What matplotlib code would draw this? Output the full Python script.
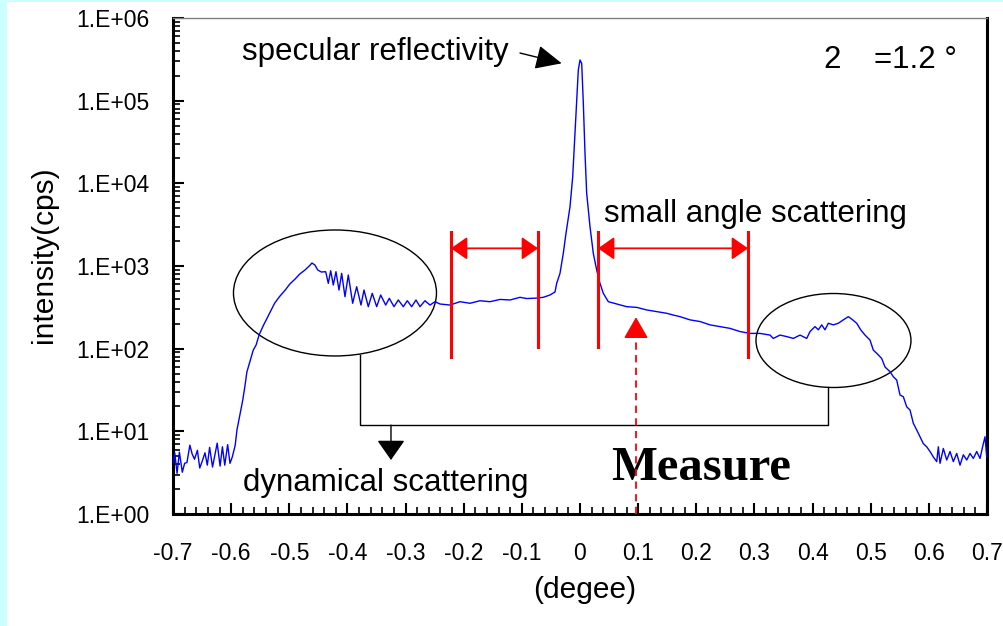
import math
import matplotlib
matplotlib.use("Agg")
import matplotlib.pyplot as plt
from matplotlib.patches import Ellipse, Rectangle
from matplotlib.ticker import FixedLocator, MultipleLocator, LogLocator, FuncFormatter, NullFormatter

plt.rcParams['font.family'] = ['Liberation Sans', 'DejaVu Sans']

# rocking scan: detector angle (deg) vs intensity (cps)
floor_left_deg = [-0.700, -0.697, -0.693, -0.689, -0.684, -0.680, -0.676, -0.671, -0.667,
                  -0.663, -0.658, -0.654, -0.650, -0.645, -0.641, -0.637, -0.632, -0.628,
                  -0.624, -0.619, -0.615, -0.611, -0.606, -0.602, -0.598]
floor_left_cps = [4.1, 5.5, 3.1, 5.6, 3.2, 4.1, 4.2, 6.8, 5.3,
                  4.6, 5.9, 3.6, 4.3, 5.5, 3.9, 6.4, 3.7, 5.2,
                  7.2, 3.8, 6.5, 3.9, 6.9, 4.1, 4.9]

rise_deg = [-0.593, -0.590, -0.585, -0.580, -0.576, -0.573, -0.568, -0.562, -0.557,
            -0.552, -0.545, -0.538, -0.531, -0.525, -0.516, -0.507, -0.499, -0.490,
            -0.482, -0.473, -0.464, -0.461, -0.456, -0.451, -0.445]
rise_cps = [6.8, 10.4, 15.8, 23.9, 36.4, 52, 69, 96, 111,
            146, 188, 235, 294, 357, 433, 512, 606, 696,
            800, 894, 1028, 1087, 1028, 894, 846]

fringe_deg = [-0.4374, -0.4329, -0.4288, -0.4243, -0.4197, -0.4145, -0.4099, -0.4042,
              -0.3985, -0.3910, -0.3841, -0.3767, -0.3715, -0.3641, -0.3573, -0.3497,
              -0.3428, -0.3342, -0.3280, -0.3199, -0.3125, -0.3039, -0.2970, -0.2895,
              -0.2821, -0.2752, -0.2666, -0.2580, -0.2494, -0.2408]
fringe_cps = [853, 617, 877, 589, 853, 512, 815, 425,
              778, 354, 562, 337, 512, 322, 467, 322,
              446, 337, 406, 322, 388, 322, 380, 322,
              388, 322, 380, 337, 370, 347]

center_deg = [-0.2236, -0.2064, -0.1892, -0.1720, -0.1548, -0.1376, -0.1204, -0.1032,
              -0.0917, -0.0745, -0.0631, -0.0516, -0.0430, -0.0401, -0.0344, -0.0287,
              -0.0241, -0.0172, -0.0126, -0.0098, -0.0057, -0.0029, 0.0, 0.0029,
              0.0057, 0.0086, 0.0115, 0.0172, 0.0229, 0.0287, 0.0344, 0.0401,
              0.0487, 0.0631, 0.0803, 0.0975, 0.1147, 0.1319, 0.1491, 0.1605,
              0.1720, 0.1892, 0.2064, 0.2236, 0.2408, 0.2580]
center_cps = [337, 370, 354, 380, 370, 394, 388, 418,
              404, 409, 418, 446, 485, 617, 815, 1430,
              2483, 5200, 11900, 27800, 94000, 235000, 310000, 283000,
              94000, 23100, 7570, 2990, 1420, 894, 617, 467,
              370, 347, 322, 316, 294, 281, 268, 255,
              244, 223, 213, 194, 185, 176]

right_deg = [0.2752, 0.2924, 0.3096, 0.3268, 0.3325, 0.3440, 0.3555, 0.3669, 0.3784,
             0.3899, 0.3956, 0.4042, 0.4099, 0.4157, 0.4214, 0.4271, 0.4357, 0.4443,
             0.4529, 0.4615, 0.4673, 0.4759, 0.4828, 0.4902, 0.4988, 0.5045, 0.5103,
             0.5189, 0.5246, 0.5332, 0.5389, 0.5447, 0.5504, 0.5561, 0.5619, 0.5676,
             0.5733, 0.5791, 0.5848, 0.5905, 0.5963, 0.6020, 0.6077, 0.6135, 0.6163,
             0.6192, 0.6249, 0.6307, 0.6364, 0.6421, 0.6479, 0.6536, 0.6593, 0.6651,
             0.6708, 0.6765, 0.6823, 0.6880, 0.6937, 0.6966, 0.6995]
right_cps = [161, 153, 153, 146, 133, 146, 140, 133, 146,
             133, 161, 185, 169, 194, 169, 203, 194, 203,
             223, 244, 228, 203, 169, 146, 127, 96, 88,
             76, 60, 52.7, 45.8, 41.7, 27.5, 26.2, 19.8, 18.1,
             12.5, 10.4, 8.6, 7.1, 6.5, 5.7, 4.9, 4.3, 6.5,
             4.1, 6.2, 4.5, 5.7, 4.3, 5.4, 3.9, 5.2, 4.5,
             5.4, 4.7, 5.7, 4.7, 7.1, 8.6, 4.9]

deg = floor_left_deg + rise_deg + fringe_deg + center_deg + right_deg
cps = floor_left_cps + rise_cps + fringe_cps + center_cps + right_cps

# marker positions (deg) for the small-angle windows
window_left = (-0.2219, -0.0722)
window_right = (0.0310, 0.2890)
measure_deg = 0.0963

fig = plt.figure(figsize=(10.04, 6.26), dpi=100)
fig.patch.set_facecolor('#ccffff')
fig.patches.append(Rectangle((7 / 1004, 0), 1, 1 - 2 / 626, transform=fig.transFigure,
                             facecolor='white', edgecolor='none', zorder=-10))

ax = fig.add_axes([173 / 1004, 112 / 626, 814 / 1004, 496 / 626])
ax.set_facecolor('white')
ax.plot(deg, cps, color='#0000ff', lw=1.0, zorder=3)
ax.set_yscale('log')
ax.set_xlim(-0.7, 0.7)
ax.set_ylim(1, 1e6)

for side in ('left', 'bottom', 'right'):
    ax.spines[side].set_linewidth(2.2)
    ax.spines[side].set_color('black')
ax.spines['top'].set_linewidth(1.0)
ax.spines['top'].set_color('#808080')

ax.xaxis.set_major_locator(FixedLocator([round(-0.7 + 0.1 * i, 1) for i in range(15)]))
ax.xaxis.set_minor_locator(MultipleLocator(0.02))
ax.xaxis.set_major_formatter(FuncFormatter(lambda v, p: '%.1f' % v if abs(v) > 1e-9 else '0'))
ax.yaxis.set_major_locator(LogLocator(base=10, numticks=10))
ax.yaxis.set_minor_locator(LogLocator(base=10, subs=range(2, 10), numticks=20))
ax.yaxis.set_minor_formatter(NullFormatter())
ax.yaxis.set_major_formatter(FuncFormatter(lambda v, p: '1.E+%02d' % round(math.log10(v))))
ax.tick_params(which='major', direction='in', length=8, width=1.5, labelsize=16.5,
               top=False, right=False)
ax.tick_params(which='minor', direction='in', length=5, width=1.2, top=False, right=False)
ax.tick_params(axis='y', which='major', pad=17)
ax.tick_params(axis='x', which='major', pad=20)

ax.set_xlabel('(degee)', fontsize=21.5)
ax.xaxis.set_label_coords(0.506, -0.124)
ax.set_ylabel('intensity(cps)', fontsize=21.5)
ax.yaxis.set_label_coords(-0.141, 0.522)

# red windows for small angle scattering
for x0 in window_left + window_right:
    lo = 79 if x0 in (window_left[0], window_right[1]) else 105
    ax.plot([x0, x0], [lo, 2600], color='red', lw=2.2, zorder=4)
for a, b in (window_left, window_right):
    ax.annotate('', xy=(b, 1636), xytext=(a, 1636),
                arrowprops=dict(arrowstyle='<|-|>,head_length=0.4,head_width=0.28',
                                color='red', lw=1.3, mutation_scale=25, shrinkA=0, shrinkB=0),
                zorder=4)

# measuring position: dashed stem plus solid head
ax.plot([measure_deg, measure_deg], [1, 150], color='red', lw=1.3, ls=(0, (4, 3)), zorder=4)
ax.annotate('', xy=(measure_deg, 240), xytext=(measure_deg, 150),
            arrowprops=dict(arrowstyle='-|>,head_length=0.52,head_width=0.3',
                            color='red', lw=1.3, mutation_scale=25, shrinkA=0, shrinkB=0),
            zorder=4)

# dynamical scattering regions
ax.add_patch(Ellipse((0.199, 0.4456), 0.2494, 0.254, transform=ax.transAxes,
                     fill=False, edgecolor='black', lw=1.0, zorder=2))
ax.add_patch(Ellipse((0.8114, 0.3498), 0.1904, 0.1895, transform=ax.transAxes,
                     fill=False, edgecolor='black', lw=1.0, zorder=2))
ax.plot([-0.3784, -0.3784, 0.4271, 0.4271], [83.8, 11.9, 11.9, 34.4], color='black', lw=1.0, zorder=2)
ax.annotate('', xy=(-0.3251, 4.5), xytext=(-0.3251, 11.9),
            arrowprops=dict(arrowstyle='-|>,head_length=0.5,head_width=0.35',
                            color='black', lw=1.0, mutation_scale=25, shrinkA=0, shrinkB=0))

ax.text(-0.5813, 388000, 'specular reflectivity', fontsize=22.5, va='center', ha='left')
ax.annotate('', xy=(-0.0315, 283000), xytext=(-0.1032, 377000),
            arrowprops=dict(arrowstyle='-|>,head_length=0.65,head_width=0.3', color='black',
                            lw=1.0, mutation_scale=25, shrinkA=0, shrinkB=0))
ax.text(0.0413, 4260, 'small angle scattering', fontsize=22.5, va='center', ha='left')
ax.text(-0.5796, 2.37, 'dynamical scattering', fontsize=22.5, va='center', ha='left')
ax.text(0.0533, 2.58, 'Measure', fontsize=35, fontweight='bold', va='baseline', ha='left',
        family=['Liberation Serif', 'DejaVu Serif'])
ax.text(0.418, 248000, '2', fontsize=22.5, va='baseline', ha='left')
ax.text(0.5057, 248000, '=1.2 °', fontsize=22.5, va='baseline', ha='left')

fig.savefig('out.png', dpi=100, facecolor=fig.get_facecolor())
